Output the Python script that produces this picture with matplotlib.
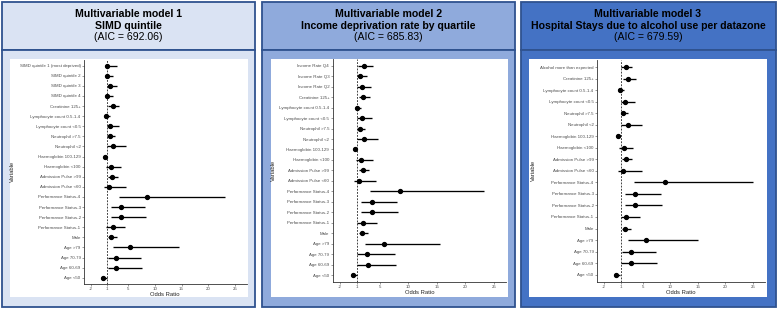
import matplotlib
matplotlib.use("Agg")
import matplotlib.pyplot as plt
from matplotlib.patches import Rectangle

plt.rcParams['font.family'] = ['Liberation Sans', 'DejaVu Sans']

# ---------------- data ----------------
common_labels = ["Creatinine 125+", "Lymphocyte count 0.5-1.4", "Lymphocyte count <0.5",
                 "Neutrophil >7.5", "Neutrophil <2", "Haemoglobin 100-129", "Haemoglobin <100",
                 "Admission Pulse >99", "Admission Pulse <60", "Performance Status-4",
                 "Performance Status-3", "Performance Status-2", "Performance Status-1",
                 "Male", "Age >79", "Age 70-79", "Age 60-69", "Age <50"]

labels1 = ["SIMD quintile 1 (most deprived)", "SIMD quintile 2", "SIMD quintile 3",
           "SIMD quintile 4"] + common_labels
or1 = [1.1, 1.05, 1.5, 1.06, 2.2, 0.88, 1.62, 1.56, 2.2, 0.69, 1.75, 2.0, 1.44,
       8.5, 3.7, 3.7, 2.2, 1.8, 5.3, 2.7, 2.75, 0.25]
lo1 = [0.8, 0.8, 1.06, 0.69, 1.25, 0.5, 1.06, 1.06, 1.06, 0.44, 0.81, 1.25, 0.44,
       3.2, 1.75, 1.75, 0.9, 1.2, 2.2, 1.25, 1.25, -0.05]
hi1 = [2.8, 2.1, 2.93, 2.06, 3.3, 1.56, 3.3, 2.5, 4.55, 0.94, 3.68, 3.06, 4.49,
       23.2, 8.2, 8.4, 4.4, 2.8, 14.5, 7.4, 7.5, 1.05]

labels2 = ["Income Rate Q4", "Income Rate Q3", "Income Rate Q2"] + common_labels
or2 = [2.2, 1.5, 1.9, 2.1, 1.0, 1.8, 1.5, 2.25, 0.7, 1.7, 2.0, 1.4,
       8.5, 3.6, 3.6, 2.05, 1.9, 5.75, 2.8, 2.9, 0.25]
lo2 = [1.1, 1.05, 1.05, 1.3, 0.65, 1.0, 1.05, 1.05, 0.5, 0.8, 1.3, 0.5,
       3.2, 1.7, 1.7, 1.0, 1.4, 2.35, 1.05, 1.05, 0.0]
hi2 = [3.8, 2.8, 3.35, 3.2, 1.65, 3.65, 2.35, 4.65, 1.0, 3.7, 3.05, 4.35,
       23.2, 8.05, 8.2, 4.5, 2.9, 15.5, 7.65, 7.75, 1.0]

labels3 = ["Alcohol more than expected"] + common_labels
or3 = [1.9, 2.4, 0.9, 1.85, 1.5, 2.25, 0.6, 1.55, 2.0, 1.5,
       9.1, 3.6, 3.65, 1.95, 1.8, 5.6, 2.8, 2.9, 0.2]
lo3 = [1.05, 1.5, 0.6, 1.0, 1.05, 1.1, 0.35, 0.75, 1.3, 0.5,
       3.4, 1.7, 1.7, 1.05, 1.2, 2.35, 1.2, 1.1, -0.15]
hi3 = [3.0, 3.7, 1.6, 3.55, 2.3, 4.8, 0.9, 3.25, 3.05, 4.8,
       25.1, 8.25, 8.45, 4.5, 2.8, 15.0, 7.4, 7.6, 0.95]

titles = [("Multivariable model 1", "SIMD quintile", "(AIC = 692.06)"),
          ("Multivariable model 2", "Income deprivation rate by quartile", "(AIC = 685.83)"),
          ("Multivariable model 3", "Hospital Stays due to alcohol use per datazone", "(AIC = 679.59)")]

xticks = [-2, 1, 5, 10, 15, 20, 25]
xlim = (-3.3, 27.2)

# ---------------- layout (pixels) ----------------
W, H = 777, 310
fig = plt.figure(figsize=(W / 100, H / 100), dpi=100)

def fx(x):
    return x / W

def fy(y):
    return 1 - y / H

def add_rect(x0, y0, x1, y1, fc, ec='none', lw=0):
    fig.add_artist(Rectangle((fx(x0), fy(y1)), fx(x1) - fx(x0), fy(y0) - fy(y1),
                             transform=fig.transFigure, facecolor=fc, edgecolor=ec,
                             linewidth=lw, zorder=0))

panels = [
    dict(x0=1.5, x1=255, bg='#dae3f3', white=(10, 58.5, 248, 297),
         ax=(84, 59.6, 246.5, 283.8), varx=12.3, orx=294,
         labels=labels1, orv=or1, lo=lo1, hi=hi1),
    dict(x0=261.5, x1=515, bg='#8faadc', white=(271, 58.5, 507.5, 297),
         ax=(332.7, 59.4, 506.5, 281.5), varx=273, orx=292.7,
         labels=labels2, orv=or2, lo=lo2, hi=hi2),
    dict(x0=520.5, x1=775.5, bg='#4472c4', white=(529, 58.5, 767, 297),
         ax=(597, 60.1, 765, 281.6), varx=533, orx=292.3,
         labels=labels3, orv=or3, lo=lo3, hi=hi3),
]

border = '#2f528f'
for i, p in enumerate(panels):
    add_rect(p['x0'], 1.5, p['x1'], 49.5, p['bg'], border, 1.3)
    add_rect(p['x0'], 49.5, p['x1'], 306.5, p['bg'], border, 1.3)
    wx0, wy0, wx1, wy1 = p['white']
    add_rect(wx0, wy0, wx1, wy1, 'white')
    cx = (p['x0'] + p['x1']) / 2
    t1, t2, t3 = titles[i]
    fig.text(fx(cx), fy(14), t1, ha='center', va='center', fontsize=7.6, fontweight='bold', color='black')
    fig.text(fx(cx), fy(25.7), t2, ha='center', va='center', fontsize=7.6, fontweight='bold', color='black')
    fig.text(fx(cx), fy(36.7), t3, ha='center', va='center', fontsize=7.6, color='black')

    l, t, r, b = p['ax']
    ax = fig.add_axes([fx(l), fy(b), fx(r) - fx(l), fy(t) - fy(b)])
    ax.set_facecolor('none')
    n = len(p['labels'])
    ys = list(range(1, n + 1))
    ax.axvline(1, color='#222222', lw=0.6, ls=(0, (2.2, 1.6)), zorder=1)
    ax.hlines(ys, p['lo'], p['hi'], color='black', lw=0.95, zorder=2)
    ax.plot(p['orv'], ys, 'o', color='black', ms=2.8, zorder=3)
    ax.set_ylim(n + 0.6, 0.4)
    ax.set_xlim(*xlim)
    ax.set_yticks(ys)
    ax.set_yticklabels(p['labels'])
    ax.set_xticks(xticks)
    ax.set_xticklabels([str(v) for v in xticks])
    for s in ['top', 'right']:
        ax.spines[s].set_visible(False)
    for s in ['left', 'bottom']:
        ax.spines[s].set_color('#333333')
        ax.spines[s].set_linewidth(0.6)
    ax.tick_params(axis='both', labelsize=3.2, length=1.5, width=0.4, pad=1,
                   colors='#4d4d4d', labelcolor='#4d4d4d')
    fig.text(fx((l + r) / 2), fy(p['orx']), 'Odds Ratio', ha='center', va='center',
             fontsize=4.2, color='#222222')
    fig.text(fx(p['varx']), fy((t + b) / 2), 'Variable', ha='center', va='center',
             rotation=90, fontsize=4.2, color='#222222')

fig.savefig('out.png', dpi=100)
